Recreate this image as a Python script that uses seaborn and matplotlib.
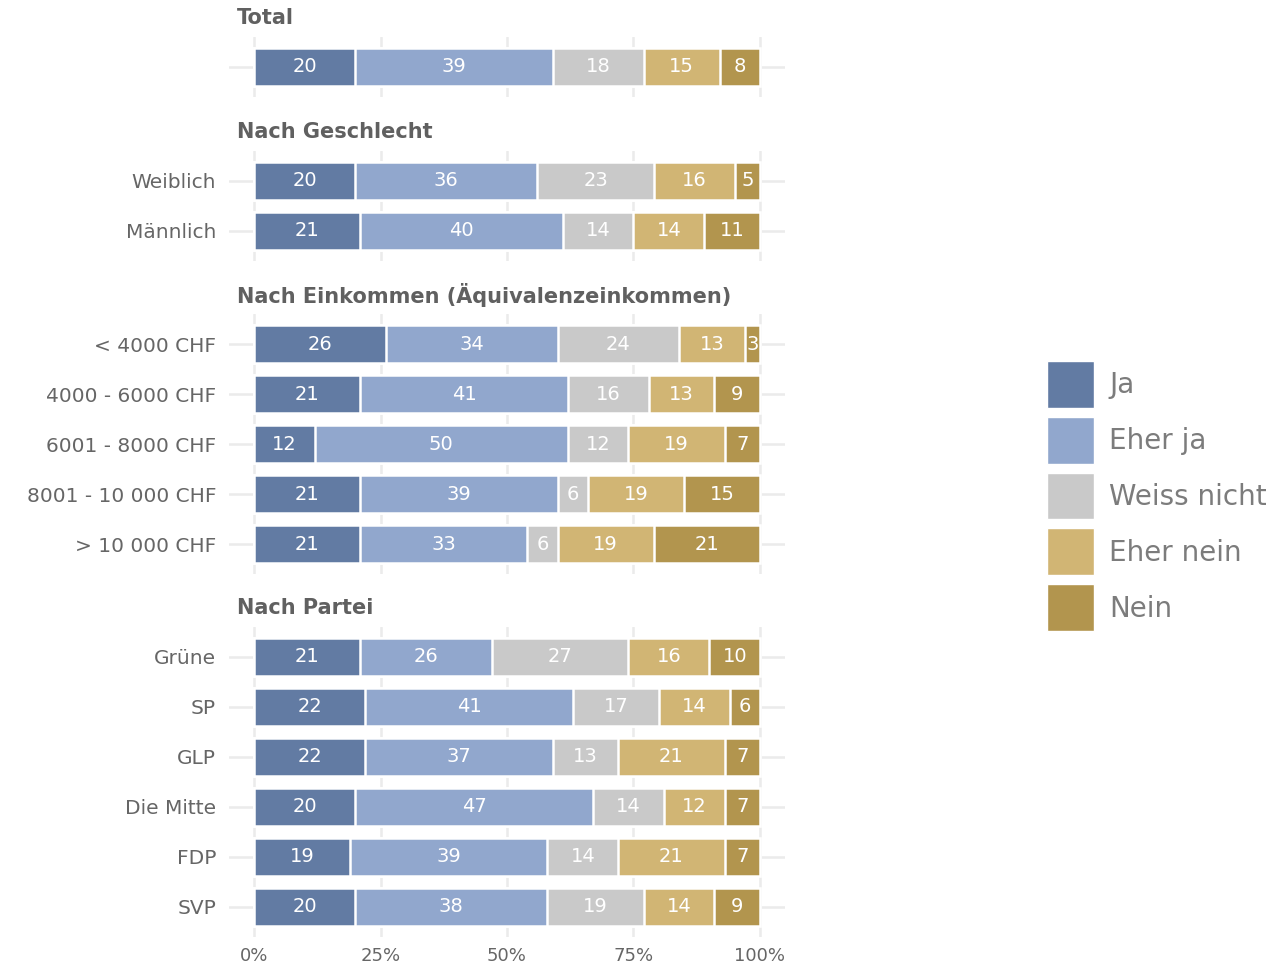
import numpy as np
import pandas as pd
import matplotlib
matplotlib.use("Agg")
import matplotlib.pyplot as plt
import seaborn as sns
from matplotlib.patches import Patch

# ---------------- data ----------------
panel_titles = ["Total", "Nach Geschlecht",
                "Nach Einkommen (Äquivalenzeinkommen)", "Nach Partei"]
row_panel = [0, 1, 1, 2, 2, 2, 2, 2, 3, 3, 3, 3, 3, 3]
row_labels = ["Total", "Weiblich", "Männlich",
              "< 4000 CHF", "4000 - 6000 CHF", "6001 - 8000 CHF",
              "8001 - 10 000 CHF", "> 10 000 CHF",
              "Grüne", "SP", "GLP", "Die Mitte", "FDP", "SVP"]
responses = ["Ja", "Eher ja", "Weiss nicht", "Eher nein", "Nein"]
ja          = [20, 20, 21, 26, 21, 12, 21, 21, 21, 22, 22, 20, 19, 20]
eher_ja     = [39, 36, 40, 34, 41, 50, 39, 33, 26, 41, 37, 47, 39, 38]
weiss_nicht = [18, 23, 14, 24, 16, 12, 6, 6, 27, 17, 13, 14, 14, 19]
eher_nein   = [15, 16, 14, 13, 13, 19, 19, 19, 16, 14, 21, 12, 21, 14]
nein        = [8, 5, 11, 3, 9, 7, 15, 21, 10, 6, 7, 7, 7, 9]
colors = ["#627BA3", "#91A7CD", "#C9C9C9", "#D1B574", "#B2954E"]
xticks = [0, 25, 50, 75, 100]
xtick_labels = ["0%", "25%", "50%", "75%", "100%"]

# ---------------- style ----------------
sns.set_theme(style="white")
plt.rcParams["font.family"] = ["DejaVu Sans"]

W, H = 1276, 965
fig = plt.figure(figsize=(W / 100, H / 100), dpi=100)
fig.patch.set_facecolor("white")

df = pd.DataFrame({"panel": row_panel, "label": row_labels,
                   "Ja": ja, "Eher ja": eher_ja, "Weiss nicht": weiss_nicht,
                   "Eher nein": eher_nein, "Nein": nein})
cum = df[responses].cumsum(axis=1)

row_px = 50.0
panel_tops = [37, 151, 314, 627]
left_px, right_px = 228.7, 785.3
grid_col = "#EBEBEB"
text_col = "#666666"

for p, title in enumerate(panel_titles):
    sub = df[df.panel == p].reset_index(drop=True)
    subcum = cum[df.panel == p].reset_index(drop=True)
    n = len(sub)
    h_px = (n + 0.2) * row_px
    top = panel_tops[p]
    ax = fig.add_axes([left_px / W, 1 - (top + h_px) / H,
                       (right_px - left_px) / W, h_px / H])
    # grid
    for xv in xticks:
        ax.axvline(xv, color=grid_col, lw=1.8, zorder=0)
    for i in range(n):
        ax.axhline(i, color=grid_col, lw=1.8, zorder=0)
    # stacked via overlay of cumulative bars
    for k in range(len(responses) - 1, -1, -1):
        sns.barplot(x=subcum[responses[k]], y=sub["label"], order=list(sub["label"]),
                    orient="h", color=colors[k], saturation=1, width=0.76,
                    edgecolor="white", linewidth=1.8, ax=ax, zorder=2)
    # labels
    for i in range(n):
        for k, r in enumerate(responses):
            v = sub.loc[i, r]
            c = subcum.loc[i, r] - v / 2
            ax.text(c, i, f"{v}", ha="center", va="center", color="white",
                    fontsize=14, zorder=5)
    ax.set_xlim(-5, 105)
    ax.set_ylim(n - 1 + 0.6, -0.6)
    ax.set_xlabel("")
    ax.set_ylabel("")
    for s in ax.spines.values():
        s.set_visible(False)
    ax.tick_params(axis="y", length=0, pad=9, labelsize=14.5, labelcolor=text_col)
    if p == 0:
        ax.set_yticks(range(n))
        ax.set_yticklabels([""] * n)
    ax.set_xticks(xticks)
    if p == len(panel_titles) - 1:
        ax.set_xticklabels(xtick_labels)
        ax.tick_params(axis="x", length=0, pad=7, labelsize=13, labelcolor=text_col)
    else:
        ax.set_xticklabels([])
        ax.tick_params(axis="x", length=0)
    fig.text(237 / W, 1 - (top - 19) / H, title, ha="left", va="center",
             fontsize=15, fontweight="bold", color="#606060")

handles = [Patch(facecolor=c, edgecolor="white", linewidth=1) for c in colors]
fs = 20
em = fs * 100 / 72
fig.legend(handles, responses, loc="center left",
           bbox_to_anchor=(1047 / W, 1 - 496 / H), frameon=False,
           fontsize=fs, labelcolor="#7c7c7c",
           handlelength=47 / em, handleheight=2.226,
           labelspacing=9 / em, handletextpad=15 / em, borderpad=0, borderaxespad=0)

fig.savefig("out.png", dpi=100, facecolor="white")
